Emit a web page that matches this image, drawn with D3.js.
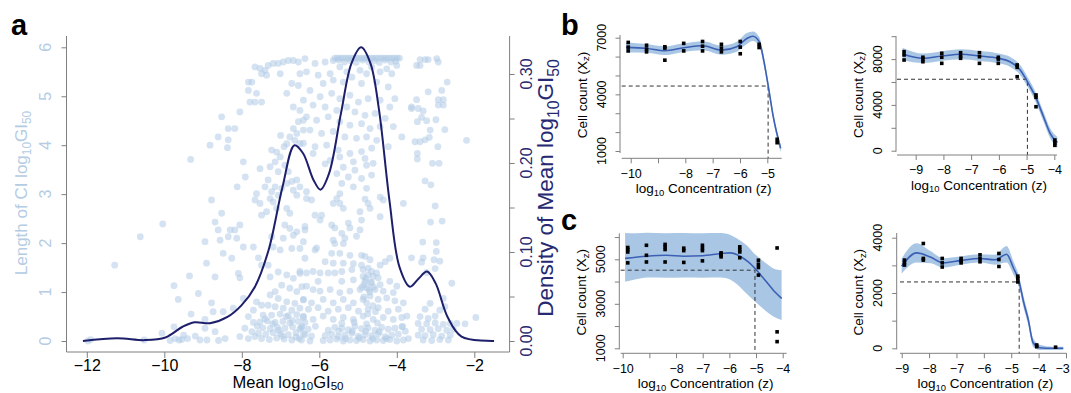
<!DOCTYPE html>
<html>
<head>
<meta charset="utf-8">
<script src="https://cdn.jsdelivr.net/npm/d3@7"></script>
<style>
  body { margin: 0; background: #fff; }
  svg { display: block; font-family: "Liberation Sans", Arial, Helvetica, sans-serif; }
</style>
</head>
<body>
<script>
// ---- panel a: density of mean log10 GI50 ----
const densX = [-12.1, -11.22, -10.5, -9.97, -9.53, -9.22, -8.82, -8.37, -8.01, -7.66, -7.31, -6.95, -6.64, -6.42, -6.15, -5.97, -5.75, -5.44, -5.17, -4.92, -4.68, -4.46, -4.19, -3.93, -3.66, -3.44, -3.22, -3.0, -2.69, -2.33, -1.49];
const densY = [0, 0.003, 0.001, 0.004, 0.016, 0.021, 0.020, 0.027, 0.040, 0.061, 0.102, 0.173, 0.220, 0.211, 0.181, 0.170, 0.188, 0.256, 0.312, 0.330, 0.312, 0.260, 0.158, 0.083, 0.061, 0.070, 0.078, 0.065, 0.027, 0.005, 0];

// panel a: [mean log10 GI50, length of CI]
const ciPoints = [
  [-11.97,0.00],[-11.9,0.03],[-11.28,1.55],[-10.62,2.13],[-10.52,0.02],[-10.04,2.39],[-10.06,0.16],[-9.85,0.01],
  [-9.75,1.13],[-9.75,0.29],[-9.72,0.05],[-9.64,0.85],[-9.62,0.02],[-9.55,0.03],[-9.5,0.12],[-9.4,0.05],
  [-9.35,1.33],[-9.32,3.71],[-9.31,0.55],[-9.2,0.1],[-9.12,0.97],[-9.08,0.02],[-8.95,0.44],
  [-8.78,2.88],[-8.52,2.61],[-8.69,2.43],[-8.61,2.27],[-8.3,2.27],[-8.18,2.27],[-8.05,2.37],[-8.95,2.03],
  [-8.56,2.06],[-8.35,2.13],[-8.13,2.1],[-7.96,1.92],[-7.7,1.92],[-8.48,1.79],[-8.26,1.69],[-8.91,1.59],
  [-8.09,1.38],[-8.05,1.29],[-7.57,1.7],[-7.49,1.55],[-7.32,1.55],[-7.27,1.31],[-8.69,1.31],[-8.78,0.78],
  [-8.74,0.6],[-8.48,0.6],[-8.22,0.67],[-7.83,0.5],[-7.96,0.87],[-7.62,0.8],[-7.49,0.73],[-7.7,0.63],
  [-8.95,0.26],[-8.69,0.19],[-8.43,0.05],[-7.92,0.26],[-7.74,0.19],[-7.83,0.05],[-8.05,0.09],[-7.66,0.09],
  [-8.9,0.02],[-8.6,0.01],
  [-8.52,4.58],[-8.05,4.68],[-8.35,4.34],[-8.18,4.34],[-8.61,4.17],[-8.35,4.11],[-8.82,4.0],[-8.37,3.95],
  [-7.96,3.66],[-7.91,3.35],[-8.12,3.15],[-6.91,3.97],[-7.0,4.2],
  [-7.66,5.6],[-7.53,5.57],[-7.4,5.53],[-7.32,5.63],[-7.19,5.67],[-7.06,5.67],[-6.93,5.7],[-6.8,5.73],
  [-6.67,5.73],[-6.54,5.7],[-7.49,5.46],[-7.36,5.43],[-7.01,5.46],[-6.5,5.46],[-7.83,5.29],[-7.74,5.29],
  [-7.62,5.06],[-7.83,5.12],[-7.79,4.88],[-7.66,4.88],[-7.49,4.88],[-6.71,5.26],[-6.54,5.22],[-6.84,5.06],
  [-6.67,4.78],[-6.5,4.71],[-6.41,4.51],[-6.54,4.48],[-6.67,4.34],[-6.58,4.24],[-6.76,4.17],[-6.41,4.31],
  [-6.63,4.1],[-6.5,4.03],[-6.84,4.03],
  [-7.23,3.9],[-7.1,3.86],[-7.01,3.76],[-7.14,3.66],[-6.89,3.59],[-7.27,3.56],[-7.06,3.46],[-6.8,3.46],
  [-6.58,3.29],[-6.84,3.22],[-6.71,3.26],[-7.53,3.52],[-7.32,3.29],[-7.4,3.15],[-7.14,3.15],[-6.97,3.12],
  [-6.67,3.08],[-6.58,2.98],[-7.62,3.01],[-7.23,3.05],[-7.06,2.98],[-6.5,3.15],
  [-6.37,5.77],[-6.11,5.67],[-5.85,5.7],[-5.64,5.73],[-6.33,5.5],[-6.03,5.43],[-5.72,5.46],[-5.47,5.6],
  [-5.29,5.5],[-5.16,5.39],[-4.95,5.53],[-4.78,5.46],[-4.65,5.6],[-4.43,5.5],[-4.26,5.56],[-4.13,5.46],
  [-4.0,5.63],[-5.9,5.26],[-5.64,5.33],[-5.38,5.29],[-4.91,5.26],[-4.52,5.29],[-4.22,5.19],[-6.24,5.12],
  [-5.98,4.99],[-5.68,5.06],[-5.47,4.95],[-5.21,5.02],[-4.99,4.88],[-4.74,4.95],[-4.43,4.92],[-4.18,4.78],
  [-4.05,4.95],[-6.41,4.92],[-6.16,4.82],[-5.85,4.78],[-5.55,4.71],[-5.29,4.78],[-5.08,4.68],[-4.82,4.61],
  [-4.56,4.65],[-4.3,4.55],[-4.09,4.38],[-6.33,4.58],[-6.07,4.51],[-5.77,4.58],[-5.47,4.48],[-5.21,4.41],
  [-4.91,4.44],[-4.69,4.34],[-4.43,4.38],[-6.24,4.31],[-5.94,4.24],[-5.64,4.28],[-5.34,4.17],[-5.04,4.14],
  [-4.78,4.17],[-4.52,4.1],[-4.22,3.97],[-3.87,4.17],[-3.62,4.78],[-6.41,4.04],[-6.11,3.97],[-5.81,4.0],
  [-5.51,3.9],[-5.21,3.83],[-4.91,3.87],[-4.65,3.94],[-5.12,3.66],[-4.82,3.73],[-5.47,3.76],[-5.72,3.69],
  [-6.16,3.83],[-5.85,3.62],[-5.38,3.55],[-5.08,3.49],[-4.78,3.59],[-4.61,3.63],[-5.55,3.42],[-5.25,3.35],
  [-4.91,3.32],[-4.65,3.39],[-5.42,3.22],[-5.12,3.15],[-4.78,3.12],[-6.33,3.05],[-5.47,3.01],
  [-5.6,5.78],[-5.53,5.78],[-5.46,5.78],[-5.39,5.78],[-5.32,5.78],[-5.25,5.78],[-5.18,5.78],[-5.11,5.78],
  [-5.04,5.78],[-4.97,5.78],[-4.9,5.78],[-4.83,5.78],[-4.76,5.78],[-4.69,5.78],[-4.62,5.78],[-4.55,5.78],
  [-4.48,5.78],[-4.41,5.78],[-4.34,5.78],[-4.27,5.78],[-4.2,5.78],[-4.13,5.78],[-4.06,5.78],[-3.99,5.78],
  [-3.93,5.78],[-5.5,5.74],[-5.2,5.73],[-4.88,5.74],[-4.58,5.73],[-4.3,5.74],[-4.03,5.72],[-5.35,5.7],
  [-5.05,5.69],[-4.72,5.7],[-4.45,5.69],[-4.15,5.7],
  [-7.27,2.91],[-7.19,2.84],[-7.1,2.71],[-7.36,2.64],[-7.53,2.81],[-7.66,2.88],[-7.49,2.57],[-6.84,2.71],
  [-6.76,2.61],[-6.89,2.37],[-6.76,2.3],[-6.58,2.23],[-6.71,1.89],[-6.5,1.89],[-6.93,2.1],[-6.67,2.16],
  [-7.19,1.92],[-7.01,1.86],[-7.23,2.13],[-7.06,1.41],[-6.84,1.35],[-6.67,1.28],[-6.5,1.38],[-6.97,1.14],
  [-6.76,1.08],[-6.58,1.01],[-6.45,1.11],[-7.14,1.01],[-7.27,0.94],[-7.06,0.87],[-6.84,0.8],[-6.63,0.77],
  [-6.41,0.84],[-7.32,0.73],[-7.14,0.7],[-6.93,0.67],[-6.71,0.63],[-6.5,0.67],
  [-7.45,0.53],[-7.23,0.53],[-7.01,0.55],[-6.8,0.52],[-6.58,0.54],[-6.41,0.51],
  [-7.53,0.39],[-7.34,0.41],[-7.14,0.38],[-6.94,0.4],[-6.76,0.37],[-6.54,0.4],[-6.37,0.38],
  [-7.46,0.27],[-7.27,0.25],[-7.08,0.28],[-6.89,0.26],[-6.69,0.29],[-6.5,0.25],
  [-7.57,0.16],[-7.38,0.14],[-7.19,0.17],[-7.0,0.15],[-6.8,0.13],[-6.6,0.17],[-6.41,0.15],
  [-7.49,0.05],[-7.29,0.03],[-7.1,0.06],[-6.91,0.04],[-6.71,0.02],[-6.52,0.05],
  [-7.2,0.35],[-6.95,0.1],[-6.7,0.42],[-7.4,0.45],[-6.85,0.5],[-7.05,0.22],[-6.6,0.08],[-6.45,0.3],
  [-7.6,0.3],[-7.7,0.38],
  [-6.33,2.91],[-6.2,2.88],[-5.55,2.91],[-5.47,2.81],[-4.82,2.9],[-4.74,2.81],[-4.69,2.71],[-4.43,2.94],
  [-4.35,2.88],[-3.83,2.81],[-6.11,2.57],[-5.94,2.57],[-5.98,2.47],[-5.64,2.81],[-5.38,2.71],[-4.95,2.64],
  [-4.91,2.47],[-4.43,2.54],[-6.37,2.34],[-6.37,2.27],[-5.68,2.37],[-5.6,2.31],[-5.25,2.41],[-5.21,2.31],
  [-5.42,2.2],[-4.95,2.27],[-5.04,2.14],[-5.34,2.1],[-5.64,2.06],[-5.38,1.99],[-5.6,1.99],[-6.41,2.03],
  [-6.07,1.9],[-6.11,1.86],[-5.68,1.79],[-5.47,1.79],[-5.21,1.75],[-4.91,1.75],[-6.37,1.69],[-5.85,1.62],
  [-5.64,1.59],[-5.38,1.59],[-5.12,1.58],[-4.82,1.73],[-4.69,1.66],[-4.91,1.55],[-4.43,1.55],[-4.3,1.62],
  [-4.18,1.69],[-4.74,1.49],[-6.5,1.42],[-6.33,1.39],[-6.16,1.42],[-5.98,1.39],[-5.77,1.39],[-5.6,1.39],
  [-5.42,1.42],[-5.16,1.46],[-4.87,1.46],[-4.65,1.42],[-4.52,1.39],[-6.03,1.22],[-5.42,1.22],[-5.12,1.25],
  [-4.87,1.32],[-4.74,1.35],[-4.61,1.32],[-4.48,1.29],[-4.82,1.22],[-4.65,1.19],[-4.43,1.15],[-4.18,1.22],
  [-4.0,1.12],[-6.33,1.12],[-6.16,1.05],[-5.98,1.02],[-5.72,1.05],[-5.47,0.99],[-5.21,1.02],[-4.95,1.05],
  [-4.78,1.09],[-4.56,1.05],[-4.35,1.02],[-4.09,0.99],[-6.41,0.85],[-6.2,0.78],[-5.9,0.85],[-5.64,0.78],
  [-5.38,0.85],[-5.12,0.78],[-4.87,0.85],[-4.69,0.92],[-4.48,0.85],[-4.26,0.88],[-4.05,0.82],[-3.83,0.78],
  [-3.74,0.51],[-6.28,0.65],[-6.03,0.68],[-5.77,0.61],[-5.51,0.65],[-5.25,0.68],[-4.99,0.61],[-4.74,0.65],
  [-4.48,0.68],[-4.22,0.61],[-3.96,0.65],[-6.41,0.48],[-6.16,0.44],[-5.9,0.51],[-5.64,0.44],[-5.38,0.48],
  [-5.12,0.44],[-4.87,0.51],[-4.61,0.44],[-4.35,0.48],[-4.09,0.44],[-3.87,0.48],
  [-6.46,0.27],[-6.29,0.24],[-6.1,0.3],[-5.77,0.22],[-5.6,0.28],[-5.42,0.26],[-5.25,0.23],[-5.08,0.3],
  [-4.91,0.25],[-4.74,0.27],[-4.56,0.22],[-4.39,0.28],[-4.22,0.24],[-4.05,0.26],[-3.87,0.29],
  [-6.37,0.13],[-6.2,0.1],[-5.85,0.11],[-5.68,0.14],[-5.51,0.09],[-5.34,0.12],[-5.16,0.16],[-4.99,0.1],
  [-4.82,0.13],[-4.65,0.11],[-4.48,0.15],[-4.3,0.09],[-4.13,0.12],[-3.96,0.14],
  [-6.46,0.02],[-6.24,0.0],[-5.9,0.01],[-5.72,0.02],[-5.55,0.04],[-5.38,0.0],[-5.21,0.02],[-5.04,0.01],
  [-4.87,0.03],[-4.69,0.0],[-4.52,0.02],[-4.35,0.01],[-4.18,0.03],[-4.0,0.0],[-3.83,0.02],
  [-5.5,0.2],[-5.33,0.05],[-5.15,0.2],[-4.97,0.06],[-4.8,0.2],[-4.62,0.05],[-4.45,0.19],[-4.27,0.05],
  [-5.42,0.36],[-5.1,0.38],[-4.78,0.35],[-4.5,0.37],[-4.85,0.9],[-4.7,1.0],[-4.78,0.78],[-4.9,1.1],
  [-4.62,0.72],[-4.75,0.55],[-4.55,0.6],[-4.8,1.28],[-4.68,1.2],[-4.6,1.1],[-4.72,1.05],[-4.85,1.15],
  [-3.78,0.2],[-3.7,0.05],[-3.85,0.3],
  [-3.4,5.75],[-3.27,5.75],[-3.19,5.75],[-3.49,5.63],[-3.4,5.63],[-2.97,5.77],[-2.93,5.7],[-2.7,5.29],
  [-3.19,5.09],[-2.84,5.12],[-3.49,4.93],[-2.93,4.93],[-2.8,4.93],[-3.62,4.75],[-3.45,4.75],[-3.32,4.7],
  [-2.93,4.82],[-2.8,4.82],[-3.36,4.57],[-3.23,4.5],[-3.47,4.48],[-2.99,4.52],[-3.14,4.31],[-2.76,4.32],
  [-2.2,4.1],[-3.53,4.07],[-3.4,4.07],[-3.27,4.11],[-3.16,4.16],[-2.94,3.97],[-3.47,3.83],[-3.47,3.72],
  [-3.08,3.63],[-2.91,3.63],[-3.27,3.27],[-3.12,3.19],[-3.01,2.76],[-3.13,2.43],[-2.83,2.45],[-3.33,2.02],
  [-2.98,2.01],[-2.98,1.83],[-3.32,1.7],[-3.04,1.66],[-3.62,1.7],[-2.89,1.63],[-3.36,1.61],[-3.01,1.48],
  [-2.58,1.18],[-3.23,1.4],[-2.8,0.87],[-3.27,0.65],[-3.14,0.77],[-2.76,0.7],[-2.89,0.63],[-1.96,0.48],
  [-2.24,0.35],[-2.45,0.36],[-3.4,0.5],[-3.19,0.46],[-3.01,0.51],
  [-3.45,0.36],[-3.23,0.35],[-3.01,0.37],[-2.8,0.34],[-2.62,0.36],
  [-3.36,0.24],[-3.14,0.23],[-2.93,0.25],[-2.71,0.22],[-2.54,0.24],
  [-3.45,0.12],[-3.27,0.11],[-3.06,0.13],[-2.84,0.1],[-2.62,0.12],
  [-3.32,0.02],[-3.1,0.01],[-2.89,0.03],[-2.67,0.02]
];

// ---- panels b / c: dose response fits ----
const b1Conc = [-10.09, -9.42, -8.75, -8.06, -7.37, -6.68, -5.99, -5.3, -4.64];
const b1Resp = [[6750, 6500, 6300], [6600, 6400, 6250], [6520, 6450, 5810], [6700, 6300], [6800, 6550, 6300], [6650, 6450, 6250], [6800, 6500, 6150], [6650, 6480], [1620, 1440]];
const b1FitX = [-10.17, -9.41, -8.74, -8.05, -7.36, -6.67, -6.12, -5.75, -5.53, -5.29, -5.12, -4.96, -4.78, -4.51];
const b1FitY = [6490, 6430, 6310, 6470, 6570, 6340, 6520, 6960, 7080, 6780, 5720, 4400, 2810, 1140];
const b1Hi = [6760, 6660, 6540, 6700, 6810, 6580, 6780, 7250, 7330, 7020, 5950, 4620, 3000, 1350];
const b1Lo = [6220, 6200, 6080, 6240, 6330, 6100, 6260, 6670, 6830, 6540, 5490, 4180, 2620, 930];
const b1Gi50 = -4.97, b1Level = 4440;

const b2Conc = [-9.42, -8.74, -8.06, -7.38, -6.7, -6.02, -5.34, -4.66, -3.98];
const b2Resp = [[8650, 8360, 7920], [8160, 8000, 7770], [8510, 8160, 7630], [8560, 8270, 8070], [8560, 8210, 7630], [8160, 8000, 7630], [7490, 7280, 6460], [4870, 4660, 3840], [930, 700, 470]];
const b2FitX = [-9.47, -8.73, -8.05, -7.37, -6.68, -6.02, -5.6, -5.23, -4.97, -4.68, -4.39, -4.15, -3.89];
const b2FitY = [8450, 8070, 8270, 8420, 8270, 8070, 7770, 7050, 6030, 4720, 2970, 1520, 700];
const b2Hi = [9000, 8480, 8680, 8850, 8700, 8500, 8200, 7480, 6460, 5150, 3400, 1950, 1200];
const b2Lo = [7900, 7660, 7860, 7990, 7840, 7640, 7340, 6620, 5600, 4290, 2540, 1090, 250];
const b2Gi50 = -4.97, b2Level = 6240;

const c1Conc = [-9.81, -9.11, -8.41, -7.71, -7.01, -6.31, -5.61, -4.91, -4.21];
const c1Resp = [[5530, 5440, 5330, 4840], [5630, 5180, 4880], [5670, 5560, 5440, 4880], [5500, 5390, 4860], [5630, 5500, 5390, 4930], [5290, 5240, 5180, 5110], [5560, 5440, 5330, 5070], [4960, 4780, 4630, 4290], [5510, 1740, 1300]];
const c1FitX = [-9.91, -9.1, -8.36, -7.71, -7.01, -6.31, -5.97, -5.6, -5.29, -4.98, -4.66, -4.35, -4.04];
const c1FitY = [5040, 5140, 5180, 5140, 5160, 5260, 5290, 5140, 4880, 4510, 4060, 3610, 3240];
const c1BandX = [-9.91, -9.5, -9.1, -8.36, -7.71, -7.01, -6.31, -6.1, -5.6, -5.35, -5.1, -4.85, -4.6, -4.35, -4.04];
const c1Hi = [6180, 6170, 6190, 6175, 6185, 6170, 6180, 6150, 5850, 5630, 5300, 5040, 4800, 4590, 4510];
const c1Lo = [3990, 4100, 4180, 4170, 4185, 4175, 4180, 4150, 3760, 3450, 3170, 2900, 2640, 2430, 2270];
const c1Gi50 = -5.04, c1Level = 4510;

const c2Conc = [-8.9, -8.21, -7.52, -6.83, -6.14, -5.45, -4.76, -4.07, -3.38];
const c2Resp = [[3190, 3090, 3010], [3790, 3250, 3190], [3250, 3090, 2940], [3250, 3170, 3090], [3380, 3250, 3130], [3430, 3210, 2960], [2610, 2530, 2400], [120, 60], [40]];
const c2FitX = [-9.0, -8.46, -7.95, -7.49, -6.86, -6.16, -5.6, -5.17, -4.93, -4.71, -4.55, -4.38, -4.2, -3.95, -3.5, -3.1];
const c2FitY = [2970, 3450, 3300, 3090, 3170, 3250, 3200, 3400, 2930, 2400, 1680, 1040, 200, 20, 0, 0];
const c2Hi = [3250, 3800, 3520, 3260, 3320, 3400, 3380, 3700, 3170, 2600, 1880, 1220, 350, 130, 60, 60];
const c2Lo = [2700, 3100, 3080, 2920, 3020, 3100, 3020, 3100, 2690, 2200, 1480, 860, 50, -60, -60, -60];
const c2Gi50 = -4.71, c2Level = 2400;

const AXIS = '#808080';
const svg = d3.select('body').append('svg').attr('width', 1071).attr('height', 393);

// text with subscripts: parts = [[text, isSub], ...]
function rich(sel, parts, fs, drop = 0.26) {
  let down = false;
  parts.forEach(([t, sub]) => {
    const ts = sel.append('tspan').text(t).attr('font-size', sub ? fs * 0.7 : fs);
    if (sub && !down) { ts.attr('dy', fs * drop); down = true; }
    else if (!sub && down) { ts.attr('dy', -fs * drop); down = false; }
  });
  return sel;
}

function styleAxis(g) {
  g.select('.domain').remove();
  g.selectAll('.tick line').attr('stroke', AXIS);
  g.attr('font-family', null);
}

// ---------------- panel a ----------------
const ax = d3.scaleLinear().domain([-12, -2]).range([86.8, 474.3]);
const ayL = d3.scaleLinear().domain([0, 6]).range([341, 47.3]);
const ayR = d3.scaleLinear().domain([0, 0.3]).range([341, 74]);
const gA = svg.append('g');

gA.append('text').attr('x', 11).attr('y', 35).attr('font-size', 29).attr('font-weight', 'bold').text('a');

gA.append('g').selectAll('circle').data(ciPoints).join('circle')
  .attr('cx', d => ax(d[0])).attr('cy', d => ayL(d[1])).attr('r', 3.4)
  .attr('fill', '#b0cae5').attr('fill-opacity', 0.55);

const densLine = d3.line().x((d, i) => ax(densX[i])).y(d => ayR(d)).curve(d3.curveCatmullRom.alpha(0.5));
gA.append('path').datum(densY).attr('d', densLine)
  .attr('fill', 'none').attr('stroke', '#1d1f6b').attr('stroke-width', 2);

gA.append('path').attr('d', 'M66.5,36V352H509.6V36').attr('fill', 'none').attr('stroke', AXIS);

gA.append('g').attr('transform', 'translate(0,352)')
  .call(d3.axisBottom(ax).tickValues([-12, -10, -8, -6, -4, -2]).tickSize(6).tickPadding(1.2).tickFormat(d3.format('d')))
  .call(styleAxis)
  .attr('font-size', 16).selectAll('text').attr('fill', '#000');

gA.append('g').attr('transform', 'translate(66.5,0)')
  .call(d3.axisLeft(ayL).tickValues([0, 1, 2, 3, 4, 5, 6]).tickSize(5).tickFormat(''))
  .call(styleAxis);
gA.append('g').attr('transform', 'translate(509.6,0)')
  .call(d3.axisRight(ayR).tickValues([0, 0.05, 0.1, 0.15, 0.2, 0.25, 0.3]).tickSize(5).tickFormat(''))
  .call(styleAxis);

gA.append('g').selectAll('text').data([0, 1, 2, 3, 4, 5, 6]).join('text')
  .attr('transform', v => `translate(51,${ayL(v)}) rotate(-90)`)
  .attr('text-anchor', 'middle').attr('font-size', 16).attr('fill', '#b4cce4').text(v => v);
gA.append('g').selectAll('text').data([0, 0.1, 0.2, 0.3]).join('text')
  .attr('transform', v => `translate(532,${ayR(v)}) rotate(-90)`)
  .attr('text-anchor', 'middle').attr('font-size', 16).attr('fill', '#272a72').text(d3.format('.2f'));

rich(gA.append('text').attr('x', 288).attr('y', 388).attr('text-anchor', 'middle'),
  [['Mean log', false], ['10', true], ['GI', false], ['50', true]], 16.5, 0.15);
rich(gA.append('text').attr('transform', 'translate(27,193) rotate(-90)').attr('text-anchor', 'middle').attr('fill', '#b4cce4'),
  [['Length of CI log', false], ['10', true], ['GI', false], ['50', true]], 17);
rich(gA.append('text').attr('transform', 'translate(553,188) rotate(-90)').attr('text-anchor', 'middle').attr('fill', '#272a72'),
  [['Density of Mean log', false], ['10', true], ['GI', false], ['50', true]], 22.5);

// ---------------- panels b / c ----------------
function drawFit(p) {
  const g = svg.append('g');
  const x = d3.scaleLinear().domain(p.xDom).range(p.xRng);
  const y = d3.scaleLinear().domain(p.yDom).range(p.yRng);

  const bandX = p.bandX || p.fitX;
  const area = d3.area().x((d, i) => x(bandX[i])).y0((d, i) => y(p.lo[i])).y1(d => y(d)).curve(d3.curveMonotoneX);
  g.append('path').datum(p.hi).attr('d', area).attr('fill', '#a9c7e4');

  g.append('path')
    .attr('d', `M${p.axX0},${y(p.level)}H${x(p.gi50)}V${p.axY}`)
    .attr('fill', 'none').attr('stroke', '#333').attr('stroke-dasharray', '4,3').attr('stroke-width', 1);

  const line = d3.line().x((d, i) => x(p.fitX[i])).y(d => y(d)).curve(d3.curveMonotoneX);
  g.append('path').datum(p.fitY).attr('d', line)
    .attr('fill', 'none').attr('stroke', '#3c60b6').attr('stroke-width', 1.6);

  const pts = p.conc.flatMap((c, i) => p.resp[i].map(v => [c, v]));
  g.append('g').selectAll('rect').data(pts).join('rect')
    .attr('x', d => x(d[0]) - 1.8).attr('y', d => y(d[1]) - 1.8)
    .attr('width', 3.6).attr('height', 3.6).attr('fill', '#000');

  g.append('line').attr('x1', p.ayX).attr('x2', p.ayX).attr('y1', p.ayY0).attr('y2', p.ayY1).attr('stroke', AXIS);
  g.append('line').attr('x1', p.axX0).attr('x2', p.axX1).attr('y1', p.axY).attr('y2', p.axY).attr('stroke', AXIS);

  g.append('g').attr('transform', `translate(${p.ayX},0)`)
    .call(d3.axisLeft(y).tickValues(p.yTicks).tickSize(4.5).tickFormat(''))
    .call(styleAxis);
  g.append('g').selectAll('text').data(p.yLabels).join('text')
    .attr('transform', v => `translate(${p.ayX - 14.5},${y(v)}) rotate(-90)`)
    .attr('text-anchor', 'middle').attr('font-size', 12.5).text(d3.format('d'));

  const xg = g.append('g').attr('transform', `translate(0,${p.axY})`)
    .call(d3.axisBottom(x).tickValues(p.xTicks).tickSize(5).tickPadding(5.5)
      .tickFormat(v => p.xLabels.includes(v) ? d3.format('d')(v) : ''))
    .call(styleAxis)
    .attr('font-size', 12.5);
  xg.selectAll('text').attr('fill', '#000');
  if (p.lastShift) xg.selectAll('.tick:last-of-type text').attr('dx', p.lastShift);

  rich(g.append('text').attr('x', (p.axX0 + p.axX1) / 2 + 2).attr('y', p.axY + 34.5).attr('text-anchor', 'middle'),
    [['log', false], ['10', true], [' Concentration (z)', false]], 13.5, 0.2);
  rich(g.append('text').attr('transform', `translate(${p.ayX - 33.5},${(p.ayY0 + p.ayY1) / 2 + 1}) rotate(-90)`).attr('text-anchor', 'middle'),
    [['Cell count (X', false], ['z', true], [')', false]], 13.5, 0.22);

  if (p.letter) {
    g.append('text').attr('x', p.letter[1]).attr('y', p.letter[2])
      .attr('font-size', 29).attr('font-weight', 'bold').text(p.letter[0]);
  }
}

drawFit({
  letter: ['b', 561, 35],
  xDom: [-10, -5], xRng: [630.7, 767.3], yDom: [1000, 7000], yRng: [151, 37.7],
  ayX: 620, ayY0: 35, ayY1: 153, axY: 158.3, axX0: 621.7, axX1: 781.7,
  yTicks: [1000, 2000, 3000, 4000, 5000, 6000, 7000], yLabels: [1000, 4000, 7000],
  xTicks: [-10, -9, -8, -7, -6, -5], xLabels: [-10, -8, -7, -6, -5],
  conc: b1Conc, resp: b1Resp, fitX: b1FitX, fitY: b1FitY, hi: b1Hi, lo: b1Lo, gi50: b1Gi50, level: b1Level
});
drawFit({
  xDom: [-9, -4], xRng: [915.7, 1054.3], yDom: [0, 8000], yRng: [150.7, 59.1],
  ayX: 896, ayY0: 36, ayY1: 151.7, axY: 155, axX0: 897, axX1: 1057,
  yTicks: [0, 2000, 4000, 6000, 8000, 10000], yLabels: [0, 4000, 8000],
  xTicks: [-9, -8, -7, -6, -5, -4], xLabels: [-9, -8, -7, -6, -5, -4],
  conc: b2Conc, resp: b2Resp, fitX: b2FitX, fitY: b2FitY, hi: b2Hi, lo: b2Lo, gi50: b2Gi50, level: b2Level
});
drawFit({
  letter: ['c', 561, 230],
  xDom: [-10, -4], xRng: [622.7, 782.7], yDom: [1000, 5000], yRng: [348.3, 259.3],
  ayX: 619.3, ayY0: 233.3, ayY1: 349.3, axY: 353.3, axX0: 620.7, axX1: 786.7,
  yTicks: [1000, 2000, 3000, 4000, 5000, 6000], yLabels: [1000, 3000, 5000],
  xTicks: [-10, -9, -8, -7, -6, -5, -4], xLabels: [-10, -8, -7, -6, -5, -4],
  conc: c1Conc, resp: c1Resp, fitX: c1FitX, fitY: c1FitY, bandX: c1BandX, hi: c1Hi, lo: c1Lo, gi50: c1Gi50, level: c1Level
});
drawFit({
  xDom: [-9, -3], xRng: [901.7, 1066], yDom: [0, 4000], yRng: [348.3, 237.7],
  ayX: 896.7, ayY0: 233, ayY1: 349.3, axY: 353.3, axX0: 900, axX1: 1066.7,
  yTicks: [0, 1000, 2000, 3000, 4000], yLabels: [0, 2000, 4000],
  xTicks: [-9, -8, -7, -6, -5, -4, -3], xLabels: [-9, -8, -7, -6, -5, -4, -3], lastShift: -4,
  conc: c2Conc, resp: c2Resp, fitX: c2FitX, fitY: c2FitY, hi: c2Hi, lo: c2Lo, gi50: c2Gi50, level: c2Level
});
</script>
</body>
</html>
